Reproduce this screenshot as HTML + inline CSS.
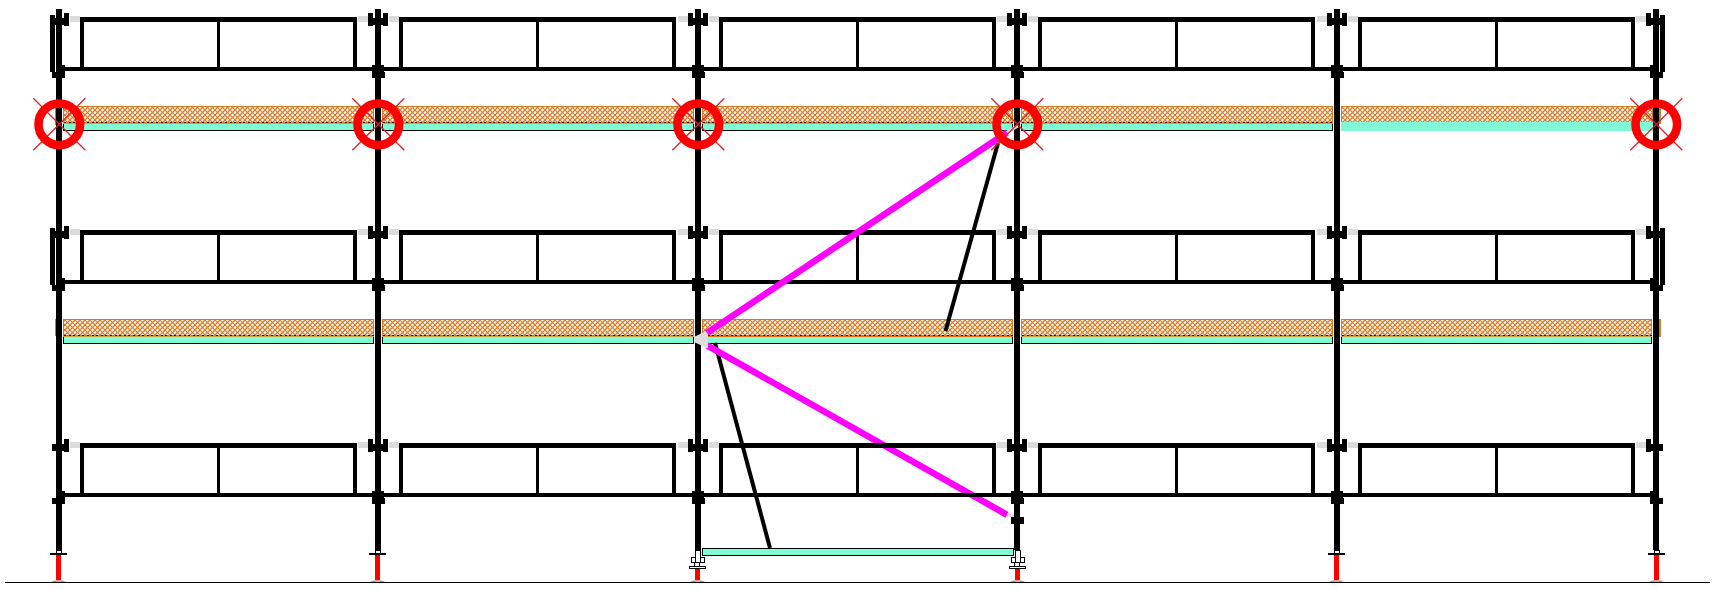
<!DOCTYPE html>
<html><head><meta charset="utf-8"><style>
html,body{margin:0;padding:0;background:#fff;width:1714px;height:590px;overflow:hidden;font-family:"Liberation Sans",sans-serif;}
svg{display:block;}
</style></head><body>
<svg width="1714" height="590" viewBox="0 0 1714 590">
<defs>
<pattern id="hatch" patternUnits="userSpaceOnUse" width="5" height="5" x="0" y="0">
<rect width="5" height="5" fill="#fffcf2"/>
<path d="M-1 6 L6 -1 M-1 1 L1 -1 M4 6 L6 4" stroke="#d47c2c" stroke-width="1.3"/>
<path d="M-1 -1 L6 6 M-1 4 L1 6 M4 -1 L6 1" stroke="#d47c2c" stroke-width="1.1"/>
</pattern>
</defs>
<rect width="1714" height="590" fill="#fff"/>
<g shape-rendering="crispEdges">
<rect x="63" y="106" width="311" height="17" fill="url(#hatch)"/>
<path d="M63.5 123 V106.5 H373.5 V123" fill="none" stroke="#d2781e" stroke-width="1"/>
<rect x="63" y="122" width="311" height="1" fill="#d88024" />
<line x1="64" y1="122.5" x2="374" y2="122.5" stroke="#400800" stroke-width="1" stroke-dasharray="2 2.6"/>
<rect x="63" y="123" width="311" height="1" fill="#c8a050" />
<rect x="63" y="124" width="311" height="6" fill="#7fffd4" />
<path d="M63.5 124 V130.5 H373.5 V124" fill="none" stroke="#000" stroke-width="1"/>
<rect x="382" y="106" width="312" height="17" fill="url(#hatch)"/>
<path d="M382.5 123 V106.5 H693.5 V123" fill="none" stroke="#d2781e" stroke-width="1"/>
<rect x="382" y="122" width="312" height="1" fill="#d88024" />
<line x1="383" y1="122.5" x2="694" y2="122.5" stroke="#400800" stroke-width="1" stroke-dasharray="2 2.6"/>
<rect x="382" y="123" width="312" height="1" fill="#c8a050" />
<rect x="382" y="124" width="312" height="6" fill="#7fffd4" />
<path d="M382.5 124 V130.5 H693.5 V124" fill="none" stroke="#000" stroke-width="1"/>
<rect x="702" y="106" width="311" height="17" fill="url(#hatch)"/>
<path d="M702.5 123 V106.5 H1012.5 V123" fill="none" stroke="#d2781e" stroke-width="1"/>
<rect x="702" y="122" width="311" height="1" fill="#d88024" />
<line x1="703" y1="122.5" x2="1013" y2="122.5" stroke="#400800" stroke-width="1" stroke-dasharray="2 2.6"/>
<rect x="702" y="123" width="311" height="1" fill="#c8a050" />
<rect x="702" y="124" width="311" height="6" fill="#7fffd4" />
<path d="M702.5 124 V130.5 H1012.5 V124" fill="none" stroke="#000" stroke-width="1"/>
<rect x="1021" y="106" width="312" height="17" fill="url(#hatch)"/>
<path d="M1021.5 123 V106.5 H1332.5 V123" fill="none" stroke="#d2781e" stroke-width="1"/>
<rect x="1021" y="122" width="312" height="1" fill="#d88024" />
<line x1="1022" y1="122.5" x2="1333" y2="122.5" stroke="#400800" stroke-width="1" stroke-dasharray="2 2.6"/>
<rect x="1021" y="123" width="312" height="1" fill="#c8a050" />
<rect x="1021" y="124" width="312" height="6" fill="#7fffd4" />
<path d="M1021.5 124 V130.5 H1332.5 V124" fill="none" stroke="#000" stroke-width="1"/>
<rect x="1341" y="106" width="312" height="16" fill="url(#hatch)"/>
<path d="M1341.5 122 V106.5 H1652.5 V122" fill="none" stroke="#d2781e" stroke-width="1"/>
<rect x="1341" y="122" width="312" height="9" fill="#80f7d6" />
<rect x="55" y="108" width="1" height="17" fill="#d2781e" />
<rect x="1659" y="108" width="2" height="16" fill="#d08030" />
<rect x="63" y="319" width="311" height="17" fill="url(#hatch)"/>
<path d="M63.5 336 V319.5 H373.5 V336" fill="none" stroke="#d2781e" stroke-width="1"/>
<rect x="63" y="335" width="311" height="1" fill="#d88024" />
<line x1="64" y1="335.5" x2="374" y2="335.5" stroke="#400800" stroke-width="1" stroke-dasharray="2 2.6"/>
<rect x="63" y="336" width="311" height="1" fill="#c8a050" />
<rect x="63" y="337" width="311" height="6" fill="#7fffd4" />
<path d="M63.5 337 V343.5 H373.5 V337" fill="none" stroke="#000" stroke-width="1"/>
<rect x="382" y="319" width="312" height="17" fill="url(#hatch)"/>
<path d="M382.5 336 V319.5 H693.5 V336" fill="none" stroke="#d2781e" stroke-width="1"/>
<rect x="382" y="335" width="312" height="1" fill="#d88024" />
<line x1="383" y1="335.5" x2="694" y2="335.5" stroke="#400800" stroke-width="1" stroke-dasharray="2 2.6"/>
<rect x="382" y="336" width="312" height="1" fill="#c8a050" />
<rect x="382" y="337" width="312" height="6" fill="#7fffd4" />
<path d="M382.5 337 V343.5 H693.5 V337" fill="none" stroke="#000" stroke-width="1"/>
<rect x="702" y="319" width="311" height="17" fill="url(#hatch)"/>
<path d="M702.5 336 V319.5 H1012.5 V336" fill="none" stroke="#d2781e" stroke-width="1"/>
<rect x="702" y="335" width="311" height="1" fill="#d88024" />
<line x1="703" y1="335.5" x2="1013" y2="335.5" stroke="#400800" stroke-width="1" stroke-dasharray="2 2.6"/>
<rect x="702" y="336" width="311" height="1" fill="#e07018" />
<rect x="702" y="337" width="311" height="6" fill="#7fffd4" />
<path d="M702.5 337 V343.5 H1012.5 V337" fill="none" stroke="#000" stroke-width="1"/>
<rect x="1021" y="319" width="312" height="17" fill="url(#hatch)"/>
<path d="M1021.5 336 V319.5 H1332.5 V336" fill="none" stroke="#d2781e" stroke-width="1"/>
<rect x="1021" y="335" width="312" height="1" fill="#d88024" />
<line x1="1022" y1="335.5" x2="1333" y2="335.5" stroke="#400800" stroke-width="1" stroke-dasharray="2 2.6"/>
<rect x="1021" y="336" width="312" height="1" fill="#c8a050" />
<rect x="1021" y="337" width="312" height="6" fill="#7fffd4" />
<path d="M1021.5 337 V343.5 H1332.5 V337" fill="none" stroke="#000" stroke-width="1"/>
<rect x="1341" y="319" width="311" height="17" fill="url(#hatch)"/>
<path d="M1341.5 336 V319.5 H1651.5 V336" fill="none" stroke="#d2781e" stroke-width="1"/>
<rect x="1341" y="335" width="311" height="1" fill="#d88024" />
<line x1="1342" y1="335.5" x2="1652" y2="335.5" stroke="#400800" stroke-width="1" stroke-dasharray="2 2.6"/>
<rect x="1341" y="336" width="311" height="1" fill="#c8a050" />
<rect x="1341" y="337" width="311" height="6" fill="#7fffd4" />
<path d="M1341.5 337 V343.5 H1651.5 V337" fill="none" stroke="#000" stroke-width="1"/>
<rect x="55" y="319" width="1" height="17" fill="#d2781e" />
<rect x="1659" y="319" width="2" height="18" fill="#d08030" />
<line x1="715" y1="343" x2="770" y2="548" stroke="#000" stroke-width="4.0" shape-rendering="auto"/>
<line x1="707" y1="345.3" x2="1007" y2="514.8" stroke="#ff00ff" stroke-width="6.5" shape-rendering="auto"/>
<line x1="1007" y1="514.5" x2="1016" y2="517" stroke="#dcdcdc" stroke-width="3" shape-rendering="auto"/>
<rect x="62" y="67" width="1591" height="4" fill="#000" />
<rect x="80" y="17" width="277" height="5" fill="#000" />
<rect x="80" y="17" width="4" height="54" fill="#000" />
<rect x="217" y="17" width="3" height="54" fill="#000" />
<rect x="353" y="17" width="4" height="54" fill="#000" />
<rect x="399" y="17" width="277" height="5" fill="#000" />
<rect x="399" y="17" width="4" height="54" fill="#000" />
<rect x="536" y="17" width="3" height="54" fill="#000" />
<rect x="672" y="17" width="4" height="54" fill="#000" />
<rect x="719" y="17" width="277" height="5" fill="#000" />
<rect x="719" y="17" width="4" height="54" fill="#000" />
<rect x="856" y="17" width="3" height="54" fill="#000" />
<rect x="992" y="17" width="4" height="54" fill="#000" />
<rect x="1038" y="17" width="277" height="5" fill="#000" />
<rect x="1038" y="17" width="4" height="54" fill="#000" />
<rect x="1175" y="17" width="3" height="54" fill="#000" />
<rect x="1311" y="17" width="4" height="54" fill="#000" />
<rect x="1358" y="17" width="277" height="5" fill="#000" />
<rect x="1358" y="17" width="4" height="54" fill="#000" />
<rect x="1495" y="17" width="3" height="54" fill="#000" />
<rect x="1631" y="17" width="4" height="54" fill="#000" />
<rect x="70" y="16" width="10" height="6" fill="#dcdcdc" />
<rect x="64" y="13" width="5" height="13" fill="#000" />
<rect x="62" y="65" width="3" height="13" fill="#000" />
<rect x="52" y="72" width="4" height="6" fill="#000" />
<rect x="389" y="16" width="10" height="6" fill="#dcdcdc" />
<rect x="358" y="16" width="10" height="6" fill="#dcdcdc" />
<rect x="368" y="13" width="5" height="13" fill="#000" />
<rect x="383" y="13" width="5" height="13" fill="#000" />
<rect x="368" y="18" width="20" height="7" fill="#000" />
<rect x="372" y="65" width="12" height="13" fill="#000" />
<rect x="384" y="72" width="1" height="6" fill="#000" />
<rect x="709" y="16" width="10" height="6" fill="#dcdcdc" />
<rect x="678" y="16" width="10" height="6" fill="#dcdcdc" />
<rect x="688" y="13" width="5" height="13" fill="#000" />
<rect x="703" y="13" width="5" height="13" fill="#000" />
<rect x="688" y="18" width="20" height="7" fill="#000" />
<rect x="692" y="65" width="12" height="13" fill="#000" />
<rect x="704" y="72" width="1" height="6" fill="#000" />
<rect x="1028" y="16" width="10" height="6" fill="#dcdcdc" />
<rect x="997" y="16" width="10" height="6" fill="#dcdcdc" />
<rect x="1007" y="13" width="5" height="13" fill="#000" />
<rect x="1022" y="13" width="5" height="13" fill="#000" />
<rect x="1007" y="18" width="20" height="7" fill="#000" />
<rect x="1011" y="65" width="12" height="13" fill="#000" />
<rect x="1023" y="72" width="1" height="6" fill="#000" />
<rect x="1348" y="16" width="10" height="6" fill="#dcdcdc" />
<rect x="1317" y="16" width="10" height="6" fill="#dcdcdc" />
<rect x="1327" y="13" width="5" height="13" fill="#000" />
<rect x="1342" y="13" width="5" height="13" fill="#000" />
<rect x="1327" y="18" width="20" height="7" fill="#000" />
<rect x="1331" y="65" width="12" height="13" fill="#000" />
<rect x="1343" y="72" width="1" height="6" fill="#000" />
<rect x="1636" y="16" width="10" height="6" fill="#dcdcdc" />
<rect x="1646" y="13" width="5" height="13" fill="#000" />
<rect x="1650" y="65" width="3" height="13" fill="#000" />
<rect x="1659" y="72" width="4" height="6" fill="#000" />
<rect x="50" y="15" width="5" height="57" fill="#000" />
<rect x="50" y="18" width="19" height="7" fill="#000" />
<rect x="52" y="72" width="4" height="6" fill="#000" />
<rect x="1660" y="15" width="5" height="57" fill="#000" />
<rect x="1646" y="18" width="19" height="7" fill="#000" />
<rect x="1659" y="72" width="4" height="6" fill="#000" />
<rect x="62" y="280" width="1591" height="4" fill="#000" />
<rect x="80" y="230" width="277" height="5" fill="#000" />
<rect x="80" y="230" width="4" height="54" fill="#000" />
<rect x="217" y="230" width="3" height="54" fill="#000" />
<rect x="353" y="230" width="4" height="54" fill="#000" />
<rect x="399" y="230" width="277" height="5" fill="#000" />
<rect x="399" y="230" width="4" height="54" fill="#000" />
<rect x="536" y="230" width="3" height="54" fill="#000" />
<rect x="672" y="230" width="4" height="54" fill="#000" />
<rect x="719" y="230" width="277" height="5" fill="#000" />
<rect x="719" y="230" width="4" height="54" fill="#000" />
<rect x="856" y="230" width="3" height="54" fill="#000" />
<rect x="992" y="230" width="4" height="54" fill="#000" />
<rect x="1038" y="230" width="277" height="5" fill="#000" />
<rect x="1038" y="230" width="4" height="54" fill="#000" />
<rect x="1175" y="230" width="3" height="54" fill="#000" />
<rect x="1311" y="230" width="4" height="54" fill="#000" />
<rect x="1358" y="230" width="277" height="5" fill="#000" />
<rect x="1358" y="230" width="4" height="54" fill="#000" />
<rect x="1495" y="230" width="3" height="54" fill="#000" />
<rect x="1631" y="230" width="4" height="54" fill="#000" />
<rect x="70" y="229" width="10" height="6" fill="#dcdcdc" />
<rect x="64" y="226" width="5" height="13" fill="#000" />
<rect x="62" y="278" width="3" height="13" fill="#000" />
<rect x="52" y="285" width="4" height="6" fill="#000" />
<rect x="389" y="229" width="10" height="6" fill="#dcdcdc" />
<rect x="358" y="229" width="10" height="6" fill="#dcdcdc" />
<rect x="368" y="226" width="5" height="13" fill="#000" />
<rect x="383" y="226" width="5" height="13" fill="#000" />
<rect x="368" y="231" width="20" height="7" fill="#000" />
<rect x="372" y="278" width="12" height="13" fill="#000" />
<rect x="384" y="285" width="1" height="6" fill="#000" />
<rect x="709" y="229" width="10" height="6" fill="#dcdcdc" />
<rect x="678" y="229" width="10" height="6" fill="#dcdcdc" />
<rect x="688" y="226" width="5" height="13" fill="#000" />
<rect x="703" y="226" width="5" height="13" fill="#000" />
<rect x="688" y="231" width="20" height="7" fill="#000" />
<rect x="692" y="278" width="12" height="13" fill="#000" />
<rect x="704" y="285" width="1" height="6" fill="#000" />
<rect x="1028" y="229" width="10" height="6" fill="#dcdcdc" />
<rect x="997" y="229" width="10" height="6" fill="#dcdcdc" />
<rect x="1007" y="226" width="5" height="13" fill="#000" />
<rect x="1022" y="226" width="5" height="13" fill="#000" />
<rect x="1007" y="231" width="20" height="7" fill="#000" />
<rect x="1011" y="278" width="12" height="13" fill="#000" />
<rect x="1023" y="285" width="1" height="6" fill="#000" />
<rect x="1348" y="229" width="10" height="6" fill="#dcdcdc" />
<rect x="1317" y="229" width="10" height="6" fill="#dcdcdc" />
<rect x="1327" y="226" width="5" height="13" fill="#000" />
<rect x="1342" y="226" width="5" height="13" fill="#000" />
<rect x="1327" y="231" width="20" height="7" fill="#000" />
<rect x="1331" y="278" width="12" height="13" fill="#000" />
<rect x="1343" y="285" width="1" height="6" fill="#000" />
<rect x="1636" y="229" width="10" height="6" fill="#dcdcdc" />
<rect x="1646" y="226" width="5" height="13" fill="#000" />
<rect x="1650" y="278" width="3" height="13" fill="#000" />
<rect x="1659" y="285" width="4" height="6" fill="#000" />
<rect x="50" y="228" width="5" height="57" fill="#000" />
<rect x="50" y="231" width="19" height="7" fill="#000" />
<rect x="52" y="285" width="4" height="6" fill="#000" />
<rect x="1660" y="228" width="5" height="57" fill="#000" />
<rect x="1646" y="231" width="19" height="7" fill="#000" />
<rect x="1659" y="285" width="4" height="6" fill="#000" />
<rect x="62" y="493" width="1591" height="4" fill="#000" />
<rect x="80" y="443" width="277" height="5" fill="#000" />
<rect x="80" y="443" width="4" height="54" fill="#000" />
<rect x="217" y="443" width="3" height="54" fill="#000" />
<rect x="353" y="443" width="4" height="54" fill="#000" />
<rect x="399" y="443" width="277" height="5" fill="#000" />
<rect x="399" y="443" width="4" height="54" fill="#000" />
<rect x="536" y="443" width="3" height="54" fill="#000" />
<rect x="672" y="443" width="4" height="54" fill="#000" />
<rect x="719" y="443" width="277" height="5" fill="#000" />
<rect x="719" y="443" width="4" height="54" fill="#000" />
<rect x="856" y="443" width="3" height="54" fill="#000" />
<rect x="992" y="443" width="4" height="54" fill="#000" />
<rect x="1038" y="443" width="277" height="5" fill="#000" />
<rect x="1038" y="443" width="4" height="54" fill="#000" />
<rect x="1175" y="443" width="3" height="54" fill="#000" />
<rect x="1311" y="443" width="4" height="54" fill="#000" />
<rect x="1358" y="443" width="277" height="5" fill="#000" />
<rect x="1358" y="443" width="4" height="54" fill="#000" />
<rect x="1495" y="443" width="3" height="54" fill="#000" />
<rect x="1631" y="443" width="4" height="54" fill="#000" />
<rect x="70" y="442" width="10" height="6" fill="#dcdcdc" />
<rect x="64" y="439" width="5" height="13" fill="#000" />
<rect x="62" y="491" width="3" height="13" fill="#000" />
<rect x="52" y="498" width="4" height="6" fill="#000" />
<rect x="389" y="442" width="10" height="6" fill="#dcdcdc" />
<rect x="358" y="442" width="10" height="6" fill="#dcdcdc" />
<rect x="368" y="439" width="5" height="13" fill="#000" />
<rect x="383" y="439" width="5" height="13" fill="#000" />
<rect x="368" y="444" width="20" height="7" fill="#000" />
<rect x="372" y="491" width="12" height="13" fill="#000" />
<rect x="384" y="498" width="1" height="6" fill="#000" />
<rect x="709" y="442" width="10" height="6" fill="#dcdcdc" />
<rect x="678" y="442" width="10" height="6" fill="#dcdcdc" />
<rect x="688" y="439" width="5" height="13" fill="#000" />
<rect x="703" y="439" width="5" height="13" fill="#000" />
<rect x="688" y="444" width="20" height="7" fill="#000" />
<rect x="692" y="491" width="12" height="13" fill="#000" />
<rect x="704" y="498" width="1" height="6" fill="#000" />
<rect x="1028" y="442" width="10" height="6" fill="#dcdcdc" />
<rect x="997" y="442" width="10" height="6" fill="#dcdcdc" />
<rect x="1007" y="439" width="5" height="13" fill="#000" />
<rect x="1022" y="439" width="5" height="13" fill="#000" />
<rect x="1007" y="444" width="20" height="7" fill="#000" />
<rect x="1011" y="491" width="12" height="13" fill="#000" />
<rect x="1023" y="498" width="1" height="6" fill="#000" />
<rect x="1348" y="442" width="10" height="6" fill="#dcdcdc" />
<rect x="1317" y="442" width="10" height="6" fill="#dcdcdc" />
<rect x="1327" y="439" width="5" height="13" fill="#000" />
<rect x="1342" y="439" width="5" height="13" fill="#000" />
<rect x="1327" y="444" width="20" height="7" fill="#000" />
<rect x="1331" y="491" width="12" height="13" fill="#000" />
<rect x="1343" y="498" width="1" height="6" fill="#000" />
<rect x="1636" y="442" width="10" height="6" fill="#dcdcdc" />
<rect x="1646" y="439" width="5" height="13" fill="#000" />
<rect x="1650" y="491" width="3" height="13" fill="#000" />
<rect x="1659" y="498" width="4" height="6" fill="#000" />
<rect x="52" y="444" width="17" height="7" fill="#000" />
<rect x="1646" y="444" width="17" height="7" fill="#000" />
<rect x="52" y="498" width="4" height="6" fill="#000" />
<rect x="1659" y="498" width="4" height="6" fill="#000" />
<rect x="56" y="9" width="6" height="541" fill="#000" />
<rect x="375" y="9" width="6" height="541" fill="#000" />
<rect x="695" y="9" width="6" height="541" fill="#000" />
<rect x="1014" y="9" width="6" height="541" fill="#000" />
<rect x="1334" y="9" width="6" height="541" fill="#000" />
<rect x="1653" y="9" width="6" height="541" fill="#000" />
<rect x="56.5" y="550.5" width="5" height="3" fill="#fff" stroke="#000" stroke-width="1"/>
<rect x="50" y="553" width="17" height="2" fill="#000" />
<rect x="56" y="555" width="5" height="26" fill="#ff0000" />
<polygon points="51,582 54,580.5 63,580.5 66,582" fill="#b89898" shape-rendering="auto"/>
<rect x="56" y="580" width="5" height="2" fill="#f0a0a0" />
<rect x="375.5" y="550.5" width="5" height="3" fill="#fff" stroke="#000" stroke-width="1"/>
<rect x="369" y="553" width="17" height="2" fill="#000" />
<rect x="375" y="555" width="5" height="26" fill="#ff0000" />
<polygon points="370,582 373,580.5 382,580.5 385,582" fill="#b89898" shape-rendering="auto"/>
<rect x="375" y="580" width="5" height="2" fill="#f0a0a0" />
<rect x="695.5" y="550.5" width="5" height="12" fill="#fff" stroke="#000" stroke-width="1"/>
<rect x="691.5" y="557.5" width="4" height="5" fill="#fff" stroke="#000" stroke-width="1"/>
<rect x="700.5" y="557.5" width="3.5" height="5" fill="#fff" stroke="#000" stroke-width="1"/>
<rect x="694.5" y="562.5" width="5" height="4" fill="#fff" stroke="#000" stroke-width="1"/>
<rect x="689.5" y="566.5" width="16" height="2" fill="#fff" stroke="#000" stroke-width="1"/>
<rect x="695" y="569" width="5" height="12" fill="#ff0000" />
<polygon points="690,582 693,580.5 702,580.5 705,582" fill="#b89898" shape-rendering="auto"/>
<rect x="695" y="580" width="5" height="2" fill="#f0a0a0" />
<rect x="1015.5" y="550.5" width="5" height="12" fill="#fff" stroke="#000" stroke-width="1"/>
<rect x="1011.5" y="557.5" width="4" height="5" fill="#fff" stroke="#000" stroke-width="1"/>
<rect x="1020.5" y="557.5" width="3.5" height="5" fill="#fff" stroke="#000" stroke-width="1"/>
<rect x="1014.5" y="562.5" width="5" height="4" fill="#fff" stroke="#000" stroke-width="1"/>
<rect x="1009.5" y="566.5" width="16" height="2" fill="#fff" stroke="#000" stroke-width="1"/>
<rect x="1015" y="569" width="5" height="12" fill="#ff0000" />
<polygon points="1010,582 1013,580.5 1022,580.5 1025,582" fill="#b89898" shape-rendering="auto"/>
<rect x="1015" y="580" width="5" height="2" fill="#f0a0a0" />
<rect x="1334.5" y="550.5" width="5" height="3" fill="#fff" stroke="#000" stroke-width="1"/>
<rect x="1328" y="553" width="17" height="2" fill="#000" />
<rect x="1334" y="555" width="5" height="26" fill="#ff0000" />
<polygon points="1329,582 1332,580.5 1341,580.5 1344,582" fill="#b89898" shape-rendering="auto"/>
<rect x="1334" y="580" width="5" height="2" fill="#f0a0a0" />
<rect x="1654.5" y="550.5" width="5" height="3" fill="#fff" stroke="#000" stroke-width="1"/>
<rect x="1648" y="553" width="17" height="2" fill="#000" />
<rect x="1654" y="555" width="5" height="26" fill="#ff0000" />
<polygon points="1649,582 1652,580.5 1661,580.5 1664,582" fill="#b89898" shape-rendering="auto"/>
<rect x="1654" y="580" width="5" height="2" fill="#f0a0a0" />
<rect x="702.5" y="548.5" width="311" height="7" fill="#7fffd4" stroke="#000" stroke-width="1"/>
<rect x="1011" y="517" width="13" height="7" fill="#000" />
<rect x="5" y="581.5" width="1705" height="1.2" fill="#000" />
</g>
<line x1="998" y1="143" x2="945.5" y2="331" stroke="#000" stroke-width="4.0" />
<polygon points="695,336.5 708,330 708,348.5 695,342.5" fill="#dcdcdc"/>
<line x1="707" y1="332.9" x2="1007" y2="132.5" stroke="#ff00ff" stroke-width="6.5" />
<line x1="1007" y1="132" x2="1018" y2="126" stroke="#dcdcdc" stroke-width="3" />
<line x1="33.3" y1="98.3" x2="85.3" y2="150.3" stroke="#e02020" stroke-width="1.25" />
<line x1="85.3" y1="98.3" x2="33.3" y2="150.3" stroke="#e02020" stroke-width="1.25" />
<circle cx="59.3" cy="124.3" r="20.8" fill="none" stroke="#ff0000" stroke-width="8.6"/>
<line x1="352.3" y1="98.3" x2="404.3" y2="150.3" stroke="#e02020" stroke-width="1.25" />
<line x1="404.3" y1="98.3" x2="352.3" y2="150.3" stroke="#e02020" stroke-width="1.25" />
<circle cx="378.3" cy="124.3" r="20.8" fill="none" stroke="#ff0000" stroke-width="8.6"/>
<line x1="672.3" y1="98.3" x2="724.3" y2="150.3" stroke="#e02020" stroke-width="1.25" />
<line x1="724.3" y1="98.3" x2="672.3" y2="150.3" stroke="#e02020" stroke-width="1.25" />
<circle cx="698.3" cy="124.3" r="20.8" fill="none" stroke="#ff0000" stroke-width="8.6"/>
<line x1="991.3" y1="98.3" x2="1043.3" y2="150.3" stroke="#e02020" stroke-width="1.25" />
<line x1="1043.3" y1="98.3" x2="991.3" y2="150.3" stroke="#e02020" stroke-width="1.25" />
<circle cx="1017.3" cy="124.3" r="20.8" fill="none" stroke="#ff0000" stroke-width="8.6"/>
<line x1="1630.3" y1="98.3" x2="1682.3" y2="150.3" stroke="#e02020" stroke-width="1.25" />
<line x1="1682.3" y1="98.3" x2="1630.3" y2="150.3" stroke="#e02020" stroke-width="1.25" />
<circle cx="1656.3" cy="124.3" r="20.8" fill="none" stroke="#ff0000" stroke-width="8.6"/>
</svg>
</body></html>
